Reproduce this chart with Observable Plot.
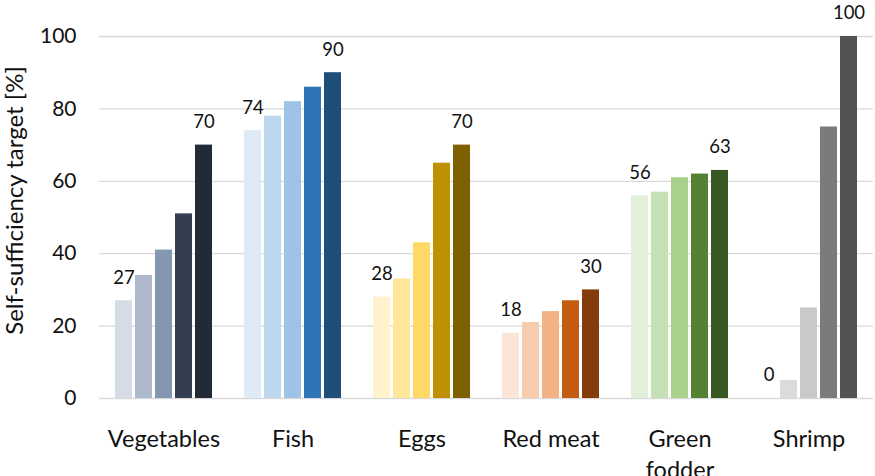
<!DOCTYPE html>
<html>
<head>
<meta charset="utf-8">
<script src="https://cdn.jsdelivr.net/npm/d3@7"></script>
<script src="https://cdn.jsdelivr.net/npm/@observablehq/plot@0.6"></script>
<style>
  body { margin: 0; background: #fff; }
</style>
</head>
<body>
<div id="chart"></div>
<script>
// Product groups along the horizontal axis
const categories = ["Vegetables", "Fish", "Eggs", "Red meat", "Green fodder", "Shrimp"];
const categoryLabels = ["Vegetables", "Fish", "Eggs", "Red meat", "Green\nfodder", "Shrimp"];

// Self-sufficiency targets (%) for the five successive steps of each product
const vegetables  = [27, 34, 41, 51, 70];
const fish        = [74, 78, 82, 86, 90];
const eggs        = [28, 33, 43, 65, 70];
const redMeat     = [18, 21, 24, 27, 30];
const greenFodder = [56, 57, 61, 62, 63];
const shrimp      = [0, 5, 25, 75, 100];

// Light-to-dark shade ramps, one per product
const vegetableShades = ["#d6dce5", "#adb9ca", "#8497b0", "#333f50", "#222a35"];
const fishShades      = ["#deebf7", "#bdd7ee", "#9dc3e6", "#2e75b6", "#1f4e79"];
const eggShades       = ["#fff2cc", "#ffe699", "#ffd966", "#bf9000", "#7f6000"];
const redMeatShades   = ["#fbe5d6", "#f8cbad", "#f4b183", "#c55a11", "#843c0c"];
const fodderShades    = ["#e2f0d9", "#c5e0b4", "#a9d18e", "#548235", "#385723"];
const shrimpShades    = ["#ededed", "#dbdbdb", "#c9c9c9", "#7b7b7b", "#525252"];

const yTicks = [0, 20, 40, 60, 80, 100];
const yTitle = "Self-sufficiency target [%]";

const seriesValues = [vegetables, fish, eggs, redMeat, greenFodder, shrimp];
const palettes = [vegetableShades, fishShades, eggShades, redMeatShades, fodderShades, shrimpShades];

const rows = categories.flatMap((category, ci) =>
  seriesValues[ci].map((value, step) => ({category, step, value, color: palettes[ci][step]}))
);
// Only the first and last step of each product carry a value label
const labelled = rows.filter(d => d.step === 0 || d.step === 4);
const labelOf = new Map(categories.map((c, i) => [c, categoryLabels[i]]));

const chart = Plot.plot({
  width: 875,
  height: 476,
  marginLeft: 96,
  marginRight: 0,
  marginTop: 36,
  marginBottom: 78,
  style: {fontFamily: "Lato, sans-serif", fontSize: "21px", color: "#111", background: "#fff"},
  fx: {domain: categories, padding: 0},
  x: {domain: d3.range(5), paddingInner: 0.17, paddingOuter: 0.785, axis: null},
  y: {domain: [0, 100]},
  color: {type: "identity"},
  marks: [
    Plot.ruleY(yTicks, {stroke: "#d9d9d9", strokeWidth: 1.3}),
    Plot.barY(rows, {fx: "category", x: "step", y: "value", fill: "color"}),
    Plot.text(labelled, {
      fx: "category", x: "step", y: "value",
      text: d => String(d.value),
      dy: -23, fontSize: 18.5, fill: "#111"
    }),
    Plot.axisY(yTicks, {
      tickSize: 0, tickPadding: 23, fontSize: 21,
      label: yTitle, labelAnchor: "center", labelArrow: "none", labelOffset: 94
    }),
    Plot.axisFx({
      anchor: "bottom",
      tickSize: 0, tickPadding: 26, fontSize: 23.5, lineHeight: 1.32,
      label: null, tickFormat: d => labelOf.get(d)
    })
  ]
});

// Axis title: plain text, slightly larger, sitting a little above the frame centre
d3.select(chart).selectAll('g[aria-label="y-axis label"]')
  .attr("transform", function () {
    return (this.getAttribute("transform") || "") + " translate(0,-17)";
  })
  .selectAll("text")
  .attr("font-size", 24)
  .text(yTitle);

document.getElementById("chart").appendChild(chart);
</script>
</body>
</html>
